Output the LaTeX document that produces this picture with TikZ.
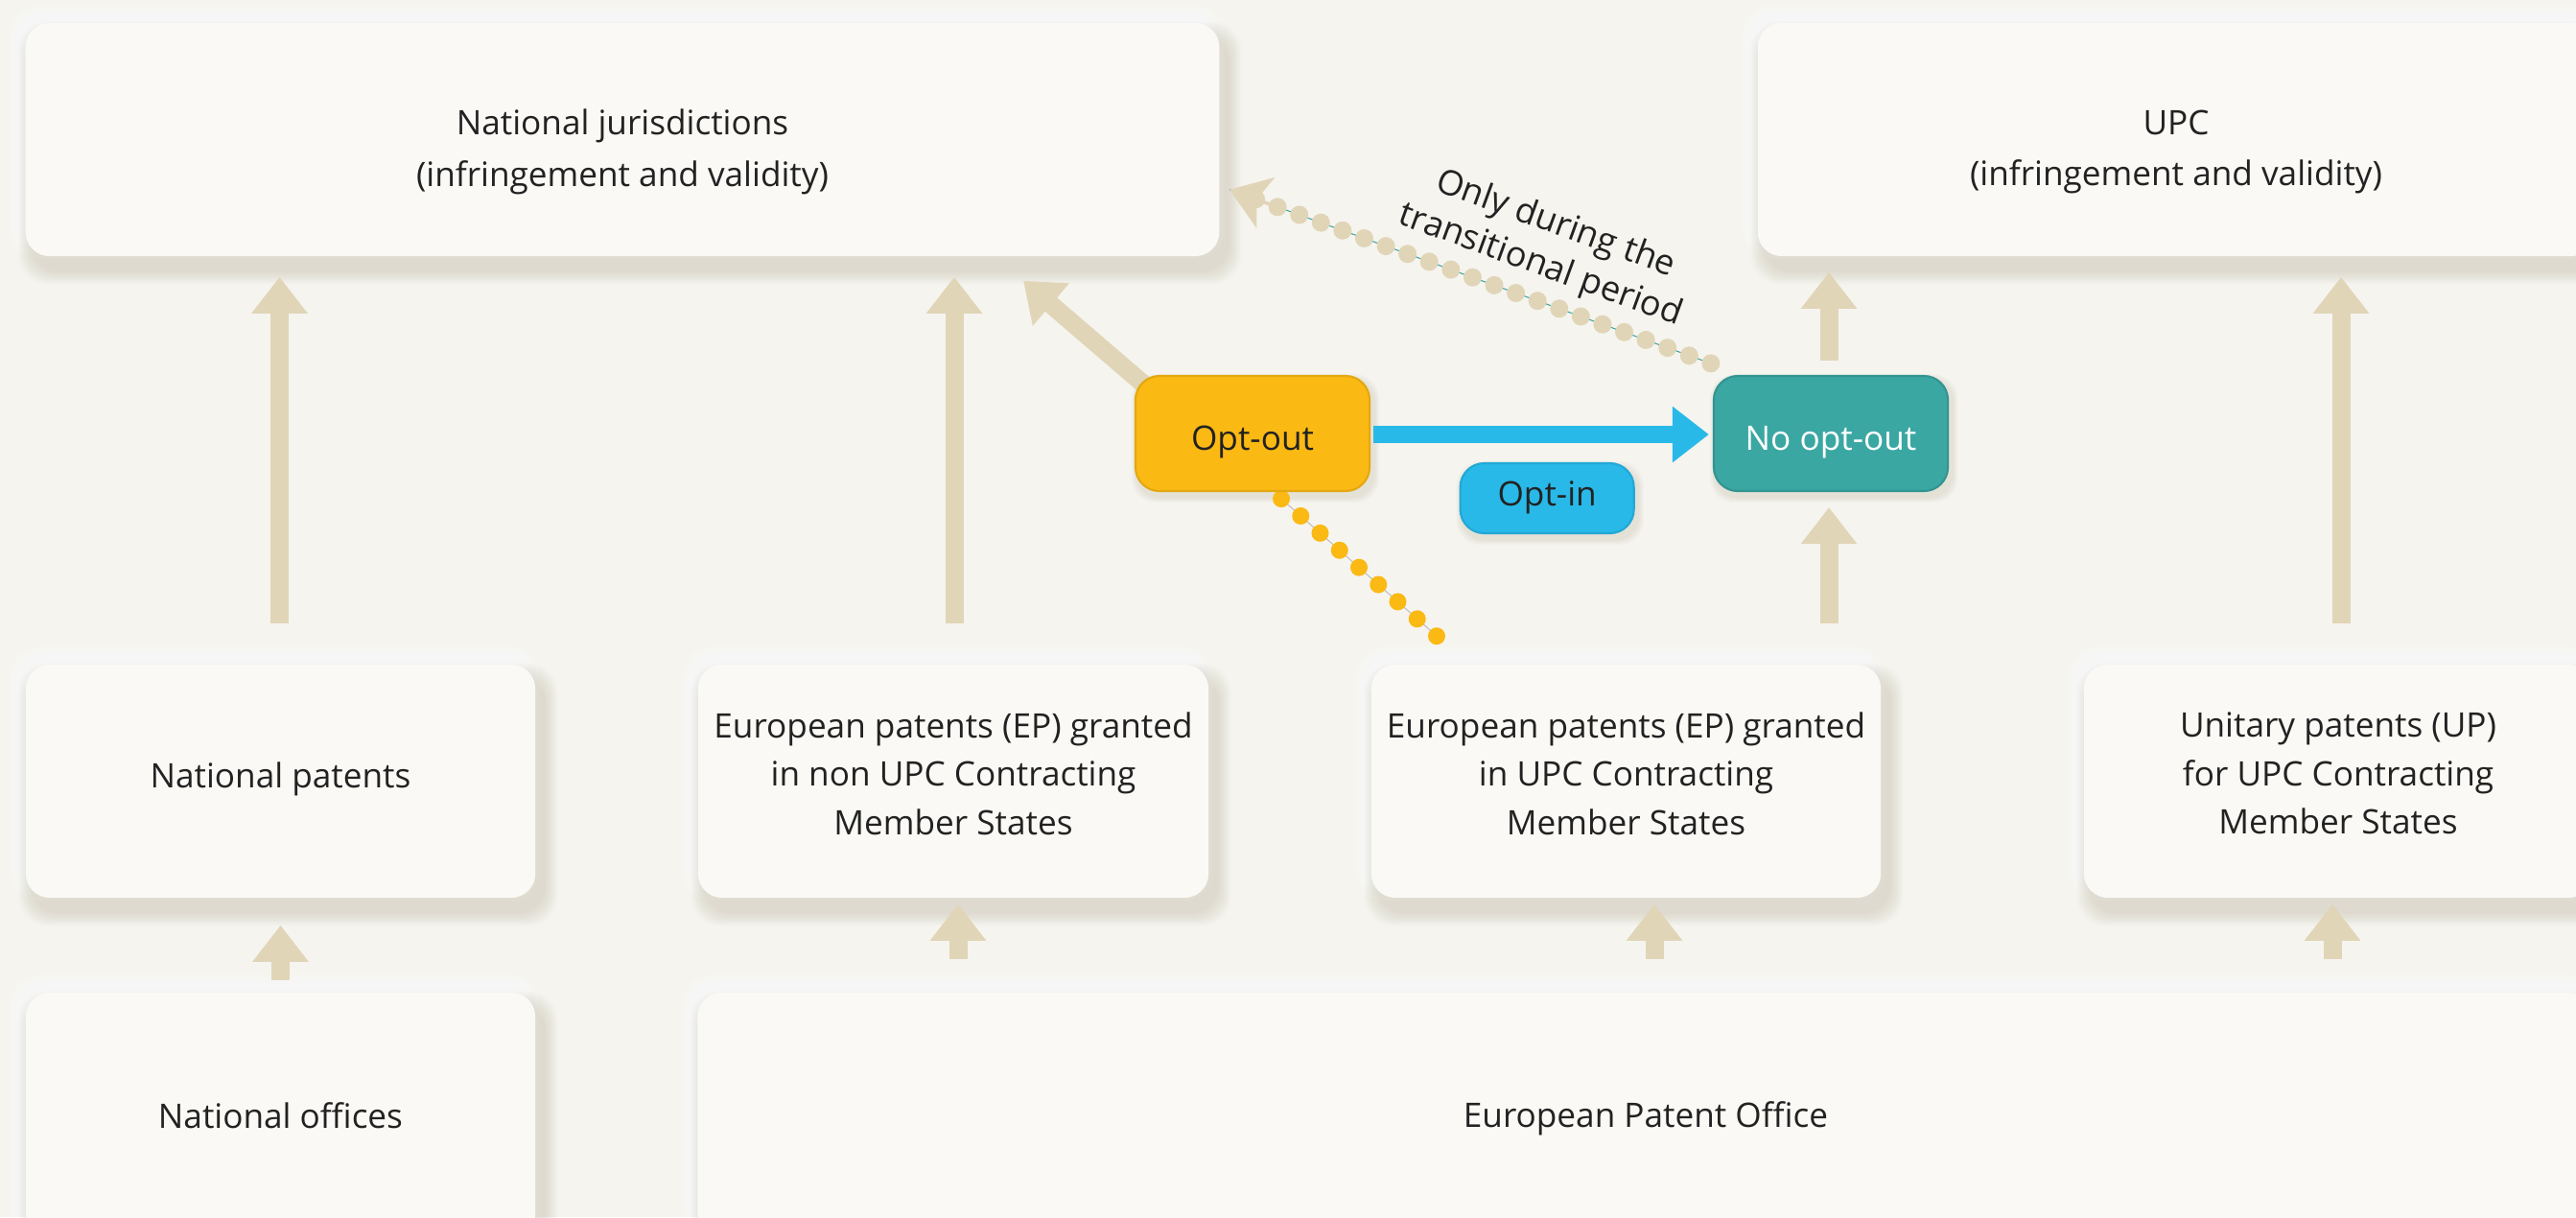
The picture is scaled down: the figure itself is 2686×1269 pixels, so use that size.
\documentclass[tikz,border=0pt]{standalone}
\usepackage{fontspec}
\setmainfont{Open Sans}
\usetikzlibrary{arrows.meta,calc}
\definecolor{bgc}{HTML}{F5F4EF}
\definecolor{boxc}{HTML}{FAF9F6}
\definecolor{beige}{HTML}{E1D5B8}
\definecolor{shadowc}{HTML}{B5AB90}
\definecolor{amber}{HTML}{FBB914}
\definecolor{amberdk}{HTML}{D9A00F}
\definecolor{tealc}{HTML}{3BA7A3}
\definecolor{tealdk}{HTML}{2F8C88}
\definecolor{cyanc}{HTML}{29B9E8}
\definecolor{cyandk}{HTML}{1E9CC8}
\definecolor{txt}{HTML}{222222}
\pgfdeclarelayer{shadowlayer}
\pgfdeclarelayer{arrowlayer}
\pgfsetlayers{shadowlayer,arrowlayer,main}
\begin{document}
\begin{tikzpicture}[x=0.01cm,y=-0.01cm,
  box/.style={fill=boxc, rounded corners=0.25cm, inner sep=0pt, minimum height=2.43cm},
  boxtxt/.style={inner sep=0pt, align=center, text=txt, font=\fontsize{10}{15.2}\selectfont},
  boxtxtthree/.style={boxtxt, font=\fontsize{10}{14.3}\selectfont},
  pill/.style={rounded corners=0.25cm, inner sep=0pt, minimum width=2.44cm, minimum height=1.2cm},
  pilltxt/.style={inner sep=0pt, align=center, font=\fontsize{10}{12}\selectfont},
  barrow/.style={draw=beige, line width=0.19cm, -{Triangle[length=0.38cm, width=0.56cm]}},
  dotline/.style={line width=#1, line cap=round},
]
\useasboundingbox (0,0) rectangle (2686,1269);

% boxes
\node[box, minimum width=12.44cm] (nj) at (649,145.5) {};
\node[box, minimum width=8.72cm] (upc) at (2269,145.5) {};
\node[box, minimum width=5.31cm] (np) at (292.5,814.5) {};
\node[box, minimum width=5.32cm] (ep1) at (994,814.5) {};
\node[box, minimum width=5.31cm] (ep2) at (1695.5,814.5) {};
\node[box, minimum width=5.30cm] (up) at (2438,814.5) {};
\node[box, minimum width=5.31cm, minimum height=2.56cm] (no) at (292.5,1163) {};
\node[box, minimum width=19.76cm, minimum height=2.56cm] (epo) at (1716,1163) {};

\node[boxtxt] (njt) at ($(nj.center)+(0,13)$) {National jurisdictions\\(infringement and validity)};
\node[boxtxt] (upct) at ($(upc.center)+(0,13)$) {UPC\\(infringement and validity)};
\node[boxtxt] (npt) at ($(np.center)+(0,-2)$) {National patents};
\node[boxtxtthree] (ep1t) at ($(ep1.center)+(0,-8)$) {European patents (EP) granted\\in non UPC Contracting\\Member States};
\node[boxtxtthree] (ep2t) at ($(ep2.center)+(0,-8)$) {European patents (EP) granted\\in UPC Contracting\\Member States};
\node[boxtxtthree] (upt) at ($(up.center)+(0,-8)$) {Unitary patents (UP)\\for UPC Contracting\\Member States};
\node[boxtxt] (not) at ($(no.center)+(0,0)$) {National offices};
\node[boxtxt] (epot) at ($(epo.center)+(0,3)$) {European Patent Office};

\node[pill, fill=amber, draw=amberdk!70!amber, line width=0.6pt] (optout) at (1306,452) {};
\node[pill, fill=tealc, draw=tealdk!70!tealc, line width=0.6pt] (noopt) at (1909,452) {};
\node[pill, fill=cyanc, draw=cyandk!60!cyanc, line width=0.6pt, minimum width=1.81cm, minimum height=0.73cm] (optin) at ($(optout.east)+(184,67.5)$) {};
\node[pilltxt, text=txt] (optoutt) at ($(optout.center)+(0,9)$) {Opt-out};
\node[pilltxt, text=white] (noopttt) at ($(noopt.center)+(0,9)$) {No opt-out};
\node[pilltxt, text=txt] (optint) at ($(optin.center)+(0,-1)$) {Opt-in};

% rotated label
\node[rotate=-20, align=center, text=txt, font=\fontsize{10.3}{13}\selectfont, inner sep=0pt] (trans) at ($(nj.south east)+(342,-12)$) {Only during the\\transitional period};

% shadows and background
\begin{pgfonlayer}{shadowlayer}
\fill[bgc] (0,0) rectangle (2686,1269);
\foreach \n in {nj,upc,np,ep1,ep2,up,no,epo}{
  \foreach \i in {1,...,8}{
    \fill[white, opacity=0.10, rounded corners=0.3cm]
      ($(\n.north west)+(-6-\i*1.3,-8-\i*1.3)$) rectangle ($(\n.south east)+(-6+\i*1.3,-8+\i*1.3)$);
  }
  \foreach \i in {1,...,9}{
    \fill[shadowc, opacity=0.04, rounded corners=0.3cm]
      ($(\n.north west)+(8-\i*1.6,14-\i*1.6)$) rectangle ($(\n.south east)+(8+\i*1.6,14+\i*1.6)$);
  }
}
\foreach \n in {optout,noopt,optin}{
  \foreach \i in {1,...,5}{
    \fill[shadowc, opacity=0.05, rounded corners=0.25cm]
      ($(\n.north west)+(3-\i*1.2,5-\i*1.2)$) rectangle ($(\n.south east)+(3+\i*1.2,5+\i*1.2)$);
  }
}
\end{pgfonlayer}

% arrows
\begin{pgfonlayer}{arrowlayer}
\draw[barrow] ($(np.north)+(-1,-42)$) -- ($(np.north |- nj.south)+(-1,21)$);
\draw[barrow] ($(ep1.north)+(1,-42)$) -- ($(ep1.north |- nj.south)+(1,21)$);
\draw[barrow] ($(noopt.north)+(-2,-15)$) -- ($(noopt.north |- upc.south)+(-2,16)$);
\draw[barrow] ($(ep2.north -| noopt.north)+(-2,-42)$) -- ($(noopt.south)+(-2,16)$);
\draw[barrow] ($(up.north)+(3,-42)$) -- ($(up.north |- upc.south)+(3,21)$);
\draw[barrow] ($(no.north)+(0,-12)$) -- ($(np.south)+(0,28)$);
\draw[barrow] ($(ep1.south |- epo.north)+(5,-34)$) -- ($(ep1.south)+(5,6)$);
\draw[barrow] ($(ep2.south |- epo.north)+(29.5,-34)$) -- ($(ep2.south)+(29.5,6)$);
\draw[barrow] ($(up.south |- epo.north)+(-6,-34)$) -- ($(up.south)+(-6,6)$);
\draw[barrow] ($(optout.north west)+(10,10)$) -- ($(nj.south east)+(-205,25)$);

% blue opt-in arrow
\draw[draw=cyanc, line width=0.175cm, -{Triangle[length=0.38cm, width=0.56cm]}]
  ($(optout.east)+(3,1)$) -- ($(noopt.west)+(-4,1)$);

% dotted beige connector
\coordinate (dbs) at ($(noopt.north west)+(-2,-12)$);
\coordinate (dbt) at ($(nj.south east)+(10,-70)$);
\coordinate (dbe) at ($(dbs)!0.95!(dbt)$);
\draw[tealc, line width=0.3pt] (dbs) -- (dbt);
\draw[beige, dotline=0.19cm, dash pattern=on 0pt off 0.24cm] (dbs) -- (dbe);
\draw[beige, line width=1pt, -{Stealth[length=0.40cm, width=0.56cm, inset=0.10cm]}] ($(dbt)!0.45cm!(dbs)$) -- (dbt);

% dotted amber connector
\coordinate (ods) at ($(optout.south)+(30,7)$);
\coordinate (ode) at ($(ep2.north west)+(70,-28)$);
\draw[gray!50, line width=0.3pt] (ods) -- (ode);
\draw[amber, dotline=0.18cm, dash pattern=on 0pt off 0.27cm] (ods) -- (ode);
\end{pgfonlayer}
\end{tikzpicture}
\end{document}
